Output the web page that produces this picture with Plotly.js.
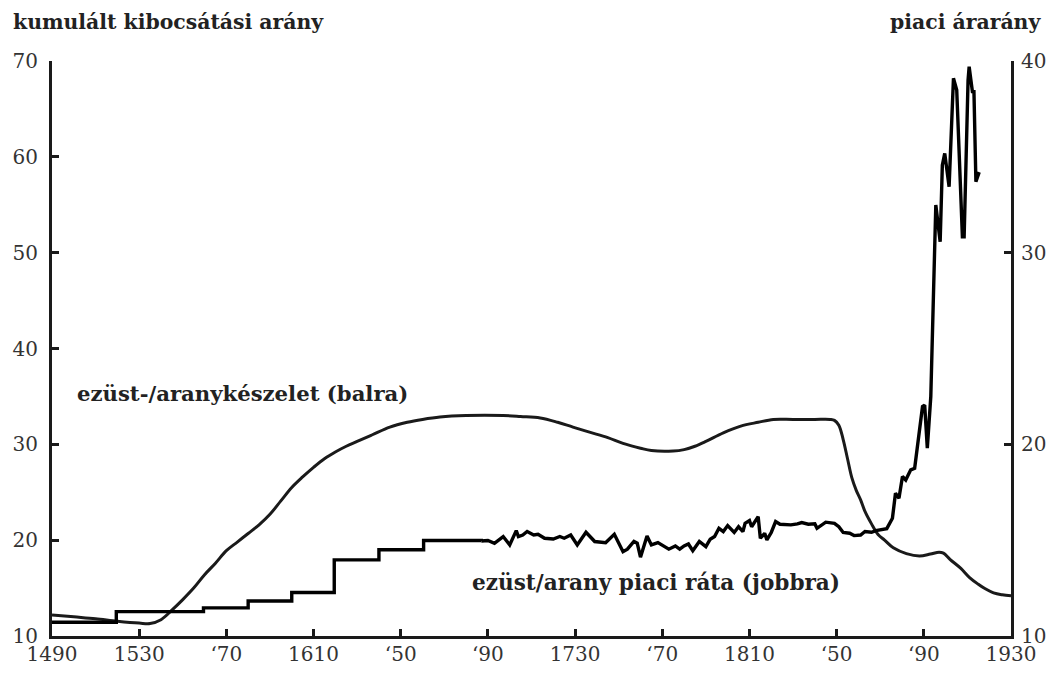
<!DOCTYPE html>
<html>
<head>
<meta charset="utf-8">
<script src="https://cdn.plot.ly/plotly-3.0.1.min.js"></script>
<style>html,body{margin:0;padding:0;background:#fff;}#chart{width:1051px;height:673px;}</style>
</head>
<body>
<div id="chart"></div>
<script>
// Silver/gold stock ratio (left axis)
const stockYears = [1490,1500,1510,1520,1530,1535,1540,1545,1550,1555,1560,1565,1570,1575,1580,1585,1590,1595,1600,1605,1610,1615,1620,1625,1630,1637,1645,1653,1660,1668,1680,1697,1705,1714,1722,1729,1737,1745,1752,1760,1765,1775,1780,1785,1790,1798,1806,1814,1821,1830,1840,1847,1849,1851,1853,1855,1857,1859,1861,1863,1866,1869,1872,1876,1882,1888,1893,1897,1899,1902,1907,1911,1915,1918,1922,1926,1930];
const stockValues = [12.2,12.0,11.8,11.55,11.35,11.3,11.7,12.7,13.8,15.0,16.4,17.6,18.9,19.8,20.7,21.6,22.7,24.1,25.5,26.6,27.6,28.5,29.2,29.8,30.3,31.0,31.8,32.3,32.6,32.85,33.0,33.0,32.9,32.75,32.3,31.8,31.25,30.7,30.1,29.6,29.35,29.3,29.45,29.8,30.3,31.2,31.9,32.3,32.6,32.6,32.6,32.6,32.5,32.0,30.5,28.5,26.5,25.2,24.2,23.0,21.7,20.6,20.0,19.2,18.6,18.35,18.55,18.75,18.65,18.0,17.05,16.1,15.4,14.95,14.5,14.3,14.2];

// Official (stepped) price ratio, right axis
const stepYears = [1490,1519.5,1559.5,1580,1600,1619.5,1640,1660.5,1687];
const stepValues = [10.72,11.27,11.47,11.83,12.27,13.97,14.5,14.98,14.96];

// Market price ratio, right axis
const marketYears = [1687,1690,1693,1697,1700,1703,1704,1706,1708,1711,1713,1716,1720,1723,1725,1728,1731,1735,1739,1744,1748,1752,1754,1757,1758.5,1760,1763,1765,1768,1771,1773,1776,1778,1780,1782,1784,1787,1790,1792,1794,1796,1798,1800,1803,1805,1807,1808,1810,1811,1814,1815,1817,1818,1820,1822,1824,1829,1832,1834,1837,1840,1841,1845,1849,1851,1853,1856,1858,1861,1863,1866,1868,1871.6,1873,1875.6,1877,1878.6,1880.2,1881.7,1884,1885.8,1887.8,1889.4,1890.4,1891.6,1893.2,1895.5,1897.5,1898.5,1899.6,1901.6,1903.6,1905.1,1907.7,1908.5,1910.3,1910.8,1912.3,1913,1913.9,1915.4];
const marketValues = [14.96,14.98,14.84,15.19,14.75,15.50,15.19,15.27,15.45,15.27,15.31,15.10,15.06,15.19,15.10,15.27,14.75,15.41,14.93,14.87,15.31,14.40,14.53,14.93,14.84,14.11,15.22,14.75,14.87,14.66,14.53,14.70,14.53,14.70,14.80,14.45,14.93,14.66,15.05,15.19,15.62,15.45,15.76,15.40,15.70,15.45,15.88,16.02,15.70,16.23,15.10,15.36,15.01,15.40,15.97,15.83,15.80,15.85,15.92,15.83,15.85,15.62,15.94,15.88,15.70,15.40,15.36,15.24,15.27,15.45,15.41,15.50,15.59,15.60,16.14,17.45,17.19,18.32,18.14,18.67,18.75,20.75,21.97,22.05,19.80,22.49,32.49,30.57,34.57,35.18,33.44,39.10,38.49,30.83,30.83,39.00,39.70,38.40,38.40,33.70,34.20];

const xTickVals = [1490,1530,1570,1610,1650,1690,1730,1770,1810,1850,1890,1930];
const xTickText = ['1490','1530','\u201870','1610','\u201850','\u201890','1730','\u201870','1810','\u201850','\u201890','1930'];
const leftTicks = [10,20,30,40,50,60,70];
const rightTicks = [10,20,30,40];

const labelStock = 'ezüst-/aranykészelet (balra)';
const labelMarket = 'ezüst/arany piaci ráta (jobbra)';
const titleLeft = 'kumulált kibocsátási arány';
const titleRight = 'piaci árarány';

const serif = '"DejaVu Serif", serif';
const ink = '#1a1a1a';
const tickFont = {family: serif, size: 20, color: '#333'};
const boldFont = {family: serif, size: 20.4, color: '#222', weight: 'bold'};

const traces = [
  {x: stockYears, y: stockValues, type: 'scatter', mode: 'lines', yaxis: 'y',
   line: {color: ink, width: 3, shape: 'spline', smoothing: 1}, hoverinfo: 'skip'},
  {x: stepYears, y: stepValues, type: 'scatter', mode: 'lines', yaxis: 'y2',
   line: {color: '#000', width: 3.4, shape: 'hv'}, hoverinfo: 'skip'},
  {x: marketYears, y: marketValues, type: 'scatter', mode: 'lines', yaxis: 'y2',
   line: {color: '#000', width: 3.4}, hoverinfo: 'skip'}
];

const axisCommon = {
  showgrid: false, zeroline: false, showline: true, linewidth: 3, linecolor: ink,
  ticks: 'inside', ticklen: 7, tickwidth: 3, tickcolor: ink, tickfont: tickFont
};

const layout = {
  width: 1051, height: 673,
  margin: {l: 52, r: 40, t: 61, b: 37, pad: 0},
  paper_bgcolor: '#fff', plot_bgcolor: '#fff',
  showlegend: false,
  xaxis: Object.assign({}, axisCommon, {range: [1490, 1930], tickmode: 'array', tickvals: xTickVals, ticktext: xTickText, ticklabelstandoff: -2}),
  yaxis: Object.assign({}, axisCommon, {range: [10, 70], tickmode: 'array', tickvals: leftTicks, ticklabelstandoff: 7}),
  yaxis2: Object.assign({}, axisCommon, {range: [10, 40], tickmode: 'array', tickvals: rightTicks, overlaying: 'y', side: 'right', ticklabelstandoff: 3}),
  annotations: [
    {text: titleLeft, xref: 'paper', yref: 'paper', x: -0.0428, y: 1.068, xanchor: 'left', yanchor: 'middle', showarrow: false, font: boldFont},
    {text: titleRight, xref: 'paper', yref: 'paper', x: 1.0334, y: 1.068, xanchor: 'right', yanchor: 'middle', showarrow: false, font: boldFont},
    {text: labelStock, xref: 'x', yref: 'y', x: 1500.6, y: 35.35, xanchor: 'left', yanchor: 'middle', showarrow: false, font: Object.assign({}, boldFont, {size: 21.2})},
    {text: labelMarket, xref: 'x', yref: 'y', x: 1682, y: 15.6, xanchor: 'left', yanchor: 'middle', showarrow: false, font: Object.assign({}, boldFont, {size: 21.6})}
  ]
};

Plotly.newPlot('chart', traces, layout, {staticPlot: true, displayModeBar: false});
</script>
</body>
</html>
